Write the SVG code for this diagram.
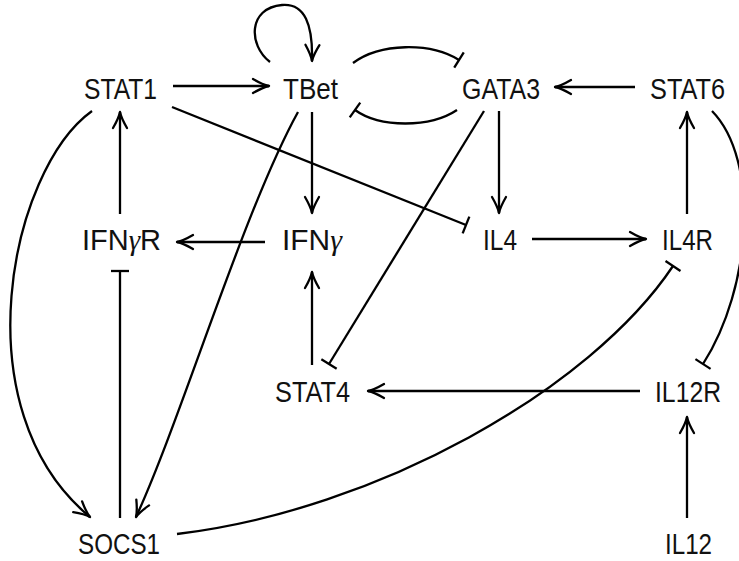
<svg xmlns="http://www.w3.org/2000/svg" width="739" height="561" viewBox="0 0 739 561">
<style>
.lbl{font-family:"Liberation Sans Narrow","Liberation Sans",sans-serif;font-size:29px;fill:#111;text-anchor:middle}
.g{font-family:"Liberation Serif",serif;font-style:italic}
.e{fill:none;stroke:#000;stroke-width:2.3}
.a{marker-end:url(#arr)}
.i{marker-end:url(#bar)}
</style>
<defs>
<marker id="arr" markerUnits="userSpaceOnUse" orient="auto" markerWidth="40" markerHeight="40" viewBox="-20 -20 40 40" refX="0" refY="0" overflow="visible">
<path d="M-16,-7 Q-6,-1.2 0,0 Q-6,1.2 -16,7" fill="none" stroke="#000" stroke-width="2.3" stroke-linecap="round" stroke-linejoin="round"/>
</marker>
<marker id="bar" markerUnits="userSpaceOnUse" orient="auto" markerWidth="40" markerHeight="40" viewBox="-20 -20 40 40" refX="0" refY="0" overflow="visible">
<line x1="0" y1="-9" x2="0" y2="9" stroke="#000" stroke-width="2.3"/>
</marker>
</defs>
<rect width="739" height="561" fill="#fff"/>
<g id="connectors">
<path class="e a" d="M173,86 L269,86"/>
<path class="e a" d="M270,62 C248,45 248,8 282,5 C305,3 313,25 312,61"/>
<path class="e i" d="M353,63 C380,43 430,42 459,60"/>
<path class="e i" d="M457,110 C430,128 380,128 355,110"/>
<path class="e a" d="M635,87 L555,87"/>
<path class="e i" d="M172,107 L466,225"/>
<path class="e a" d="M499,111 L499,213"/>
<path class="e i" d="M484,111 L329,364"/>
<path class="e a" d="M312,112 L312,213"/>
<path class="e a" d="M298,112 C243,212 182,417 136,517"/>
<path class="e a" d="M92,111 C10,170 -40,410 90,517"/>
<path class="e a" d="M265,242 L177,242"/>
<path class="e a" d="M120,214 L120,112"/>
<path class="e i" d="M120,518 L120,271"/>
<path class="e a" d="M312,365 L312,272"/>
<path class="e a" d="M640,391 L368,391"/>
<path class="e a" d="M687,518 L687,417"/>
<path class="e a" d="M532,239 L646,239"/>
<path class="e a" d="M687,214 L687,112"/>
<path class="e i" d="M177,534 C377,510 590,390 673,266"/>
<path class="e i" d="M712,111 C760,160 752,288 703,364"/>
</g>
<g id="STAT1"><text class="lbl" x="120.5" y="99" textLength="73" lengthAdjust="spacingAndGlyphs">STAT1</text></g>
<g id="TBet"><text class="lbl" x="310.5" y="99" textLength="55" lengthAdjust="spacingAndGlyphs">TBet</text></g>
<g id="GATA3"><text class="lbl" x="501" y="99" textLength="78" lengthAdjust="spacingAndGlyphs">GATA3</text></g>
<g id="STAT6"><text class="lbl" x="687.5" y="99" textLength="75" lengthAdjust="spacingAndGlyphs">STAT6</text></g>
<g id="IFNgR"><text class="lbl" x="121.5" y="250" textLength="79" lengthAdjust="spacingAndGlyphs">IFN<tspan class="g">γ</tspan>R</text></g>
<g id="IFNg"><text class="lbl" x="312" y="250" textLength="60" lengthAdjust="spacingAndGlyphs">IFN<tspan class="g">γ</tspan></text></g>
<g id="IL4"><text class="lbl" x="500" y="250" textLength="34" lengthAdjust="spacingAndGlyphs">IL4</text></g>
<g id="IL4R"><text class="lbl" x="687.5" y="250" textLength="51" lengthAdjust="spacingAndGlyphs">IL4R</text></g>
<g id="STAT4"><text class="lbl" x="312.5" y="402" textLength="75" lengthAdjust="spacingAndGlyphs">STAT4</text></g>
<g id="IL12R"><text class="lbl" x="688" y="402" textLength="66" lengthAdjust="spacingAndGlyphs">IL12R</text></g>
<g id="SOCS1"><text class="lbl" x="119" y="554" textLength="82" lengthAdjust="spacingAndGlyphs">SOCS1</text></g>
<g id="IL12"><text class="lbl" x="688.5" y="554" textLength="47" lengthAdjust="spacingAndGlyphs">IL12</text></g>
</svg>
